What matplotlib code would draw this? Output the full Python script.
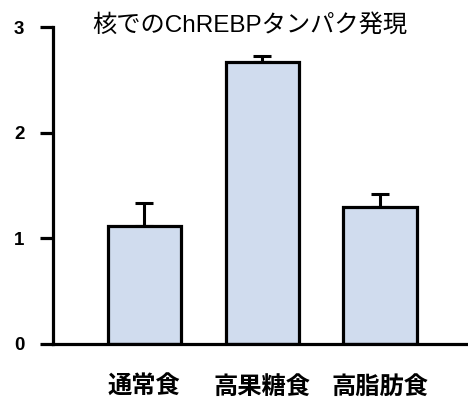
import matplotlib
matplotlib.use("Agg")
import matplotlib.pyplot as plt

# data
categories = ["通常食", "高果糖食", "高脂肪食"]
values = [1.12, 2.67, 1.30]
err_upper = [0.21, 0.06, 0.12]
yticks = [0, 1, 2, 3]
title = "核でのChREBPタンパク発現"

jp = ["Liberation Sans", "Noto Sans CJK JP"]

fig = plt.figure(figsize=(4.68, 4.0), dpi=100)
ax = fig.add_axes([0.113, 0.14, 0.887, 0.7925])

x = list(range(len(categories)))
ax.bar(x, values, width=0.62, color="#d0dcee", edgecolor="black",
       linewidth=2.3, zorder=2)
ax.errorbar(x, values, yerr=[[0] * len(values), err_upper], fmt="none",
            ecolor="black", elinewidth=2.2, capsize=6.5, capthick=2.2, zorder=1)

ax.set_xlim(-0.777, 2.747)
ax.set_ylim(0, 3)
ax.set_yticks(yticks)
ax.set_yticklabels([str(t) for t in yticks], family="Liberation Sans",
                   fontsize=13.5, fontweight="bold")
ax.set_xticks(x)
ax.set_xticklabels(categories, family=jp, fontsize=17.5, fontweight="bold")

ax.spines["top"].set_visible(False)
ax.spines["right"].set_visible(False)
ax.spines["left"].set_linewidth(2.3)
ax.spines["bottom"].set_linewidth(2.3)
ax.spines["left"].set_capstyle("projecting")
ax.tick_params(axis="y", direction="out", length=9.5, width=2.3, pad=11)
ax.tick_params(axis="x", length=0, pad=23)

fig.text(250 / 468, 1 - 25 / 400, title, family=jp, fontsize=17.5,
         ha="center", va="center")

fig.savefig("out.png", dpi=100)
